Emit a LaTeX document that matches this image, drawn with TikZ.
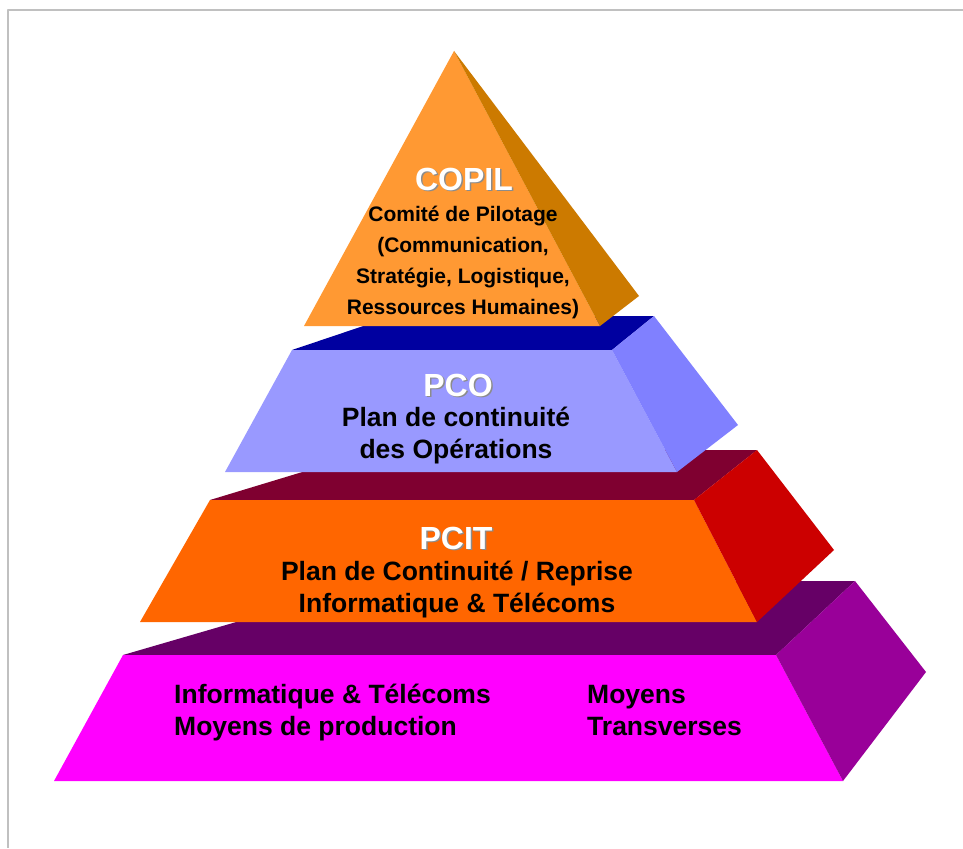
\documentclass[tikz,border=0pt]{standalone}
\usepackage{fontspec}
\setmainfont{Liberation Sans}
\usepackage{tikz}

\definecolor{framegray}{HTML}{C0C0C0}
\definecolor{shadowgray}{HTML}{8C8C8C}
\definecolor{copilfront}{HTML}{FF9933}
\definecolor{copilside}{HTML}{CC7A00}
\definecolor{pcotop}{HTML}{0000A0}
\definecolor{pcofront}{HTML}{9999FF}
\definecolor{pcoside}{HTML}{8080FF}
\definecolor{pcittop}{HTML}{7F0030}
\definecolor{pcitfront}{HTML}{FF6600}
\definecolor{pcitside}{HTML}{CC0000}
\definecolor{socletop}{HTML}{660066}
\definecolor{soclefront}{HTML}{FF00FF}
\definecolor{socleside}{HTML}{990099}

% white title with a grey drop shadow
\newcommand{\layertitle}[3]{%
  \node[title, text=shadowgray, xshift=1.5pt, yshift=-1.5pt] (#1sh) at (#2) {#3};
  \node[title] (#1) at (#2) {#3};}

\begin{document}
\begin{tikzpicture}[x=1pt, y=-1pt, line join=round,
  title/.style={text=white, font=\fontsize{32}{38}\selectfont\bfseries, inner sep=0pt, anchor=base},
  body/.style={font=\fontsize{26.5}{32}\selectfont\bfseries, inner sep=0pt, align=center, anchor=base},
  small/.style={body, font=\fontsize{21}{30.7}\selectfont\bfseries}]
\useasboundingbox (0,0) rectangle (963,848);
\fill[white] (0,0) rectangle (963,848);
\draw[framegray, line width=2.5pt] (963,10) -- (8,10) -- (8,848);

% socle
\fill[socletop] (123,655) -- (377,581) -- (855,581) -- (776,655) -- cycle;
\fill[soclefront] (123,655) -- (776,655) -- (843,781) -- (54,781) -- cycle;
\fill[socleside] (776,655) -- (855,581) -- (926,672) -- (843,781) -- cycle;

% PCIT
\fill[pcittop] (210,500) -- (375,450) -- (757,450) -- (694,500) -- cycle;
\fill[pcitfront] (210,500) -- (694,500) -- (757,622) -- (140,622) -- cycle;
\fill[pcitside] (694,500) -- (757,450) -- (834,550) -- (757,622) -- cycle;

% PCO
\fill[pcotop] (292,350) -- (393,316) -- (654,316) -- (612,350) -- cycle;
\fill[pcofront] (292,350) -- (612,350) -- (677,472) -- (225,472) -- cycle;
\fill[pcoside] (612,350) -- (654,316) -- (738,425) -- (677,472) -- cycle;

% COPIL
\fill[copilfront] (454,51) -- (600,326) -- (304,326) -- cycle;
\fill[copilside] (454,51) -- (639,296) -- (600,326) -- cycle;

% texts (base = last line)
\layertitle{copil}{464,190}{COPIL}
\node[small] (copiltxt) at (463,314)
  {Comité de Pilotage\\(Communication,\\Stratégie, Logistique,\\Ressources Humaines)};

\layertitle{pco}{458,396}{PCO}
\node[body] (pcotxt) at (456,458) {Plan de continuité\\des Opérations};

\layertitle{pcit}{456,549}{PCIT}
\node[body] (pcittxt) at (457,612) {Plan de Continuité / Reprise\\Informatique \& Télécoms};

\node[body, align=left, anchor=base west] (socleit) at (174,735)
  {Informatique \& Télécoms\\Moyens de production};
\node[body, align=left, anchor=base west] (soclemoy) at (587,735)
  {Moyens\\Transverses};
\end{tikzpicture}
\end{document}
